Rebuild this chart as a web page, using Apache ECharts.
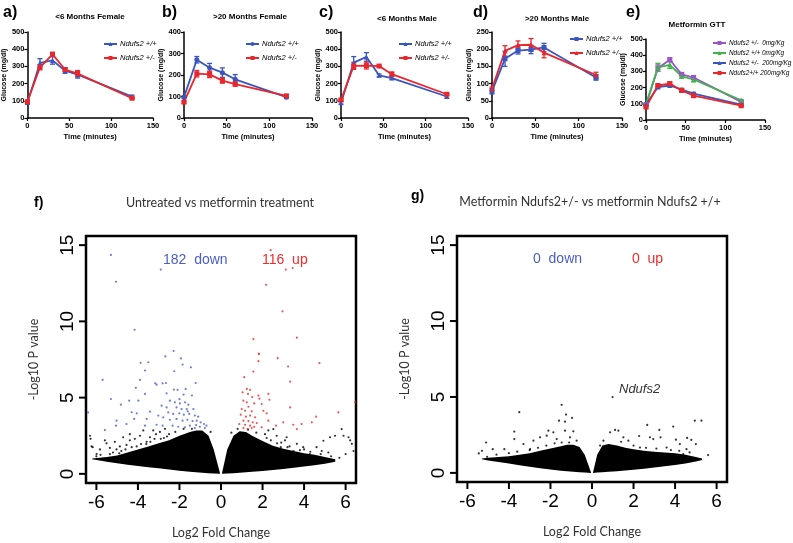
<!DOCTYPE html>
<html>
<head>
<meta charset="utf-8">
<script src="https://cdn.jsdelivr.net/npm/echarts@6/dist/echarts.min.js"></script>
<style>
  html, body { margin: 0; padding: 0; background: #fff; }
  #main { width: 793px; height: 543px; }
</style>
</head>
<body>
<div id="main"></div>
<script>
// ---- GTT panels (a-e): time points, mean glucose, SEM ----
const timeA = [0, 15, 30, 45, 60, 125];
const aWtMean = [90, 320, 335, 275, 252, 125];
const aWtSem = [8, 25, 22, 15, 20, 8];
const aHetMean = [95, 295, 370, 282, 258, 115];
const aHetSem = [5, 15, 12, 10, 18, 5];

const timeB = [0, 15, 30, 45, 60, 120];
const bWtMean = [97, 271, 234, 211, 180, 97];
const bWtSem = [5, 15, 20, 22, 22, 5];
const bHetMean = [74, 206, 203, 174, 158, 103];
const bHetSem = [5, 15, 15, 12, 10, 5];

const timeC = [0, 15, 30, 45, 60, 125];
const cWtMean = [88, 322, 355, 248, 232, 125];
const cWtSem = [8, 35, 25, 8, 8, 10];
const cHetMean = [105, 303, 305, 302, 255, 138];
const cHetSem = [5, 20, 20, 5, 12, 5];

const timeD = [0, 15, 30, 45, 60, 120];
const dWtMean = [78, 172, 196, 199, 205, 118];
const dWtSem = [8, 22, 10, 12, 12, 8];
const dHetMean = [85, 195, 212, 213, 190, 125];
const dHetSem = [5, 15, 12, 18, 15, 8];

const timeE = [0, 15, 30, 45, 60, 120];
const eHet0Mean = [95, 320, 372, 282, 262, 112];
const eHet0Sem = [5, 20, 12, 10, 12, 5];
const eWt0Mean = [95, 325, 340, 270, 250, 122];
const eWt0Sem = [5, 25, 22, 12, 15, 5];
const eHet200Mean = [95, 203, 213, 188, 163, 95];
const eHet200Sem = [5, 8, 8, 8, 8, 5];
const eWt200Mean = [80, 213, 225, 182, 150, 88];
const eWt200Sem = [8, 8, 8, 8, 10, 5];

// ---- volcano plots (f, g) ----
const volcanoTicksX = [-6, -4, -2, 0, 2, 4, 6];
const volcanoTicksY = [0, 5, 10, 15];

// dense cloud outline: x, upper edge, lower edge
const fLeftX = [-6.2, -5.5, -5, -4.5, -4, -3.5, -3, -2.5, -2, -1.5, -1.2, -0.9, -0.6, -0.35, -0.05];
const fLeftUp = [1.0, 1.1, 1.2, 1.4, 1.6, 1.8, 2.0, 2.2, 2.5, 2.75, 2.85, 2.85, 2.5, 1.6, 0.05];
const fLeftLo = [0.95, 0.8, 0.7, 0.6, 0.52, 0.44, 0.36, 0.28, 0.2, 0.13, 0.1, 0.07, 0.04, 0.02, 0];
const fRightX = [0.05, 0.3, 0.6, 0.9, 1.2, 1.5, 2.0, 2.5, 3.0, 3.5, 4.0, 4.5, 5.0, 5.5];
const fRightUp = [0.05, 1.6, 2.5, 2.8, 2.75, 2.5, 2.15, 1.85, 1.65, 1.5, 1.35, 1.25, 1.1, 0.95];
const fRightLo = [0, 0.02, 0.04, 0.07, 0.1, 0.13, 0.18, 0.25, 0.32, 0.4, 0.48, 0.56, 0.66, 0.8];

const gLeftX = [-5.3, -5, -4.5, -4, -3.5, -3, -2.5, -2, -1.5, -1.2, -0.9, -0.6, -0.35, -0.05];
const gLeftUp = [0.95, 1.0, 1.05, 1.1, 1.2, 1.3, 1.45, 1.6, 1.75, 1.85, 1.85, 1.7, 1.2, 0.05];
const gLeftLo = [0.9, 0.82, 0.72, 0.62, 0.5, 0.4, 0.3, 0.22, 0.14, 0.1, 0.07, 0.04, 0.02, 0];
const gRightX = [0.05, 0.25, 0.5, 0.8, 1.2, 1.6, 2.0, 2.5, 3.0, 3.5, 4.0, 4.5, 5.0, 5.3];
const gRightUp = [0.05, 1.2, 1.8, 1.9, 1.8, 1.65, 1.55, 1.45, 1.4, 1.35, 1.3, 1.2, 1.05, 0.95];
const gRightLo = [0, 0.02, 0.04, 0.07, 0.11, 0.15, 0.2, 0.27, 0.35, 0.43, 0.52, 0.62, 0.75, 0.85];

// significant genes in f
const fDown = [
  [-5.3, 14.36], [-5.06, 12.6], [-2.9, 13.4], [-4.16, 9.45], [-2.68, 7.7], [-2.28, 8.05], [-1.93, 7.57],
  [-3.87, 7.28], [-3.5, 7.32], [-1.85, 7.17], [-1.45, 6.99], [-3.66, 6.78], [-2.25, 6.73], [-5.7, 6.16],
  [-3.9, 6.16], [-1.22, 5.96], [-3.17, 5.94], [-3.1, 5.85], [-2.81, 5.94], [-2.65, 5.96], [-4.1, 5.64],
  [-2.27, 5.53], [-2.09, 5.51], [-1.7, 5.57], [-3.66, 5.24], [-2.62, 5.28], [-1.8, 5.2], [-1.4, 5.14],
  [-5.3, 4.91], [-4.42, 4.8], [-3.98, 4.8], [-4.82, 4.54], [-2.46, 4.8], [-2.22, 4.69], [-1.98, 4.62],
  [-1.73, 4.69], [-1.57, 4.54], [-2.86, 4.47], [-2.62, 4.36], [-2.14, 4.36], [-1.9, 4.25], [-1.65, 4.25],
  [-1.33, 4.25], [-4.3, 4.04], [-4.06, 3.97], [-3.42, 4.08], [-2.54, 4.03], [-2.3, 3.93], [-2.01, 3.97],
  [-1.79, 3.88], [-1.53, 3.93], [-1.26, 3.82], [-1.1, 3.75], [-3.02, 3.82], [-2.78, 3.71], [-3.58, 3.6],
  [-4.18, 3.6], [-2.46, 3.55], [-2.14, 3.6], [-1.85, 3.49], [-1.62, 3.55], [-1.37, 3.46], [-1.17, 3.49],
  [-0.98, 3.38], [-0.82, 3.27], [-5.03, 3.49], [-4.55, 3.27], [-5.59, 2.87], [-5.06, 3.16], [-3.66, 3.16],
  [-3.1, 3.22], [-2.81, 3.16], [-2.33, 3.16], [-2.06, 3.09], [-1.74, 3.05], [-1.5, 3.16], [-1.26, 3.0],
  [-1.02, 3.09], [-0.78, 3.0], [-0.7, 3.16], [-6.4, 4.03], [-2.0, 4.9], [-1.6, 4.1], [-1.2, 3.2]
];
const fUp = [
  [2.39, 14.67], [3.12, 13.4], [3.45, 13.5], [2.17, 12.4], [2.96, 10.66], [1.56, 8.84], [3.65, 8.93],
  [1.83, 7.87], [2.73, 7.59], [1.82, 7.87], [1.8, 7.39], [4.74, 7.26], [3.23, 7.04], [1.56, 6.71],
  [1.12, 6.34], [3.33, 6.05], [1.24, 5.57], [1.4, 5.51], [1.04, 5.35], [1.3, 5.24], [1.8, 5.14],
  [2.28, 5.24], [1.5, 5.04], [1.85, 4.93], [2.33, 4.86], [1.08, 4.8], [1.24, 4.69], [1.6, 4.62],
  [1.96, 4.58], [1.32, 4.4], [3.33, 4.36], [1.0, 4.25], [1.16, 4.14], [1.48, 4.1], [2.04, 4.14],
  [2.2, 3.97], [5.65, 4.03], [6.46, 4.69], [0.95, 3.88], [1.2, 3.75], [1.4, 3.82], [1.64, 3.71],
  [2.28, 3.49], [4.58, 3.75], [1.08, 3.49], [1.32, 3.46], [1.53, 3.38], [1.72, 3.33], [0.88, 3.27],
  [1.16, 3.22], [1.4, 3.16], [1.6, 3.09], [1.08, 3.0], [1.28, 2.94], [1.48, 3.0], [2.65, 3.16],
  [3.48, 3.22], [3.88, 3.27], [4.37, 3.38], [3.65, 2.94], [1.96, 3.05], [3.0, 3.38]
];
const fOther = [
  [-6.31, 2.5], [-6.28, 2.3], [-6.23, 1.8], [-6.18, 1.75], [-5.59, 2.2], [-5.51, 2.0], [-5.35, 1.7],
  [-5.11, 2.1], [-4.87, 1.8], [-4.71, 2.4], [-4.39, 2.6], [-4.39, 2.2], [-4.15, 2.3], [-3.9, 2.5],
  [-3.74, 2.85], [-3.42, 2.4], [-3.26, 2.85], [-3.13, 2.6], [-2.94, 2.75], [-2.7, 2.95], [-3.58, 2.1],
  [-5.03, 1.6], [-5.83, 1.6], [-5.99, 1.3], [-5.35, 1.3], [-4.06, 1.8], [-4.55, 1.9], [-4.8, 1.5],
  [-3.2, 2.3], [-2.5, 2.6], [-5.8, 1.25], [-5.2, 1.4], [-4.6, 1.6], [-4.3, 1.75], [-3.85, 1.95],
  [-3.4, 2.1], [-2.9, 2.3], [-2.6, 2.45], [-2.2, 2.75], [-1.8, 2.95], [-1.4, 2.95], [-0.5, 2.75],
  [-6.0, 1.15], [-4.9, 1.35], [-3.6, 1.95], [-2.75, 2.35],
  [4.93, 2.17], [5.25, 2.4], [5.49, 2.5], [5.81, 2.94], [5.9, 2.5], [6.14, 2.4], [6.22, 2.2],
  [6.3, 1.97], [6.0, 1.3], [6.38, 1.5], [4.6, 1.75], [4.28, 1.3], [3.96, 1.75], [3.65, 1.97],
  [3.16, 2.4], [3.08, 2.2], [2.68, 2.5], [2.52, 2.94], [2.28, 2.85], [2.12, 2.6], [5.17, 1.4],
  [4.85, 1.5], [3.49, 1.5], [2.88, 1.75], [2.4, 2.2], [3.3, 1.8], [0.5, 2.7], [0.8, 2.95],
  [1.7, 2.7], [2.2, 2.35], [2.7, 2.0], [3.2, 1.75], [3.8, 1.55], [4.3, 1.45], [4.8, 1.3],
  [5.3, 1.15], [5.7, 1.05], [1.3, 2.9], [2.9, 2.05], [4.0, 1.6]
];
// all genes in g
const gGene = [[0.99, 4.99]];
const gOther = [
  [-1.46, 4.48], [-3.5, 4.0], [-1.25, 3.84], [-1.59, 3.44], [-1.3, 3.37], [-0.96, 3.62], [-3.74, 2.72],
  [-3.74, 2.23], [-5.1, 2.0], [-5.45, 1.28], [-5.3, 1.45], [-5.05, 1.06], [-4.78, 1.56], [-4.22, 1.56],
  [-2.82, 2.12], [-2.5, 2.34], [-2.18, 2.45], [-1.86, 2.67], [-2.1, 2.78], [-1.3, 2.78], [-0.9, 2.74],
  [-1.7, 2.23], [-2.98, 1.56], [-3.3, 1.9], [-0.74, 2.12], [-1.06, 2.34], [-1.46, 2.0],
  [-4.6, 1.2], [-4.0, 1.3], [-3.6, 1.4], [-3.0, 1.5], [-2.6, 1.65], [-2.2, 1.8], [-1.8, 1.95], [-1.1, 2.0],
  [0.87, 2.67], [1.11, 2.83], [1.27, 2.78], [1.51, 2.34], [1.75, 2.12], [2.27, 2.43], [2.66, 3.16],
  [2.79, 2.34], [2.95, 2.23], [3.24, 2.83], [3.3, 2.34], [3.91, 3.05], [4.04, 2.19], [4.23, 1.9],
  [4.58, 2.3], [4.78, 2.17], [4.95, 3.44], [5.27, 3.44], [5.0, 1.9], [5.59, 1.17], [4.39, 1.23],
  [4.55, 1.56], [3.59, 1.67], [2.31, 1.67], [0.55, 2.12], [0.39, 1.8],
  [1.4, 2.05], [2.0, 1.8], [2.6, 1.65], [3.1, 1.6], [3.8, 1.5], [4.2, 1.45], [4.7, 1.35]
];

const BLUE = '#3a55c0', RED = '#e8262b', PURPLE = '#9b55c8', GREEN = '#3fb54a';
const VBLUE = '#4a5ec6', VRED = '#ee2b2b';
const boldFont = 'Liberation Sans, Arial, sans-serif';
const V_XMIN = -6.5, V_XMAX = 6.5, V_YMIN = -0.6, V_YMAX = 15.6;

const chart = echarts.init(document.getElementById('main'));

// small GTT panels
const panels = [
  {key: 'a', left: 27, top: 32, width: 126, height: 86, yMax: 500, yStep: 100, legendLeft: 103, legendTop: 40,
    groups: [
      {name: 'Ndufs2 +/+', t: timeA, m: aWtMean, s: aWtSem, color: BLUE, symbol: 'triangle'},
      {name: 'Ndufs2 +/-', t: timeA, m: aHetMean, s: aHetSem, color: RED, symbol: 'rect'}]},
  {key: 'b', left: 184, top: 32, width: 128, height: 86, yMax: 400, yStep: 100, legendLeft: 245, legendTop: 40,
    groups: [
      {name: 'Ndufs2 +/+', t: timeB, m: bWtMean, s: bWtSem, color: BLUE, symbol: 'circle'},
      {name: 'Ndufs2 +/-', t: timeB, m: bHetMean, s: bHetSem, color: RED, symbol: 'rect'}]},
  {key: 'c', left: 341, top: 32, width: 127, height: 86, yMax: 500, yStep: 100, legendLeft: 398, legendTop: 40,
    groups: [
      {name: 'Ndufs2 +/+', t: timeC, m: cWtMean, s: cWtSem, color: BLUE, symbol: 'triangle'},
      {name: 'Ndufs2 +/-', t: timeC, m: cHetMean, s: cHetSem, color: RED, symbol: 'rect'}]},
  {key: 'd', left: 492, top: 32, width: 130, height: 86, yMax: 250, yStep: 50, legendLeft: 569, legendTop: 35,
    groups: [
      {name: 'Ndufs2 +/+', t: timeD, m: dWtMean, s: dWtSem, color: BLUE, symbol: 'rect'},
      {name: 'Ndufs2 +/-', t: timeD, m: dHetMean, s: dHetSem, color: RED, symbol: 'triangle'}]},
  {key: 'e', left: 646, top: 39, width: 119, height: 81, yMax: 500, yStep: 100, legendLeft: 712, legendTop: 40, gap: 4, fs: 6.4,
    groups: [
      {name: 'Ndufs2 +/-  0mg/Kg', t: timeE, m: eHet0Mean, s: eHet0Sem, color: PURPLE, symbol: 'rect'},
      {name: 'Ndufs2 +/+ 0mg/Kg', t: timeE, m: eWt0Mean, s: eWt0Sem, color: GREEN, symbol: 'triangle'},
      {name: 'Ndufs2 +/-  200mg/Kg', t: timeE, m: eHet200Mean, s: eHet200Sem, color: BLUE, symbol: 'triangle'},
      {name: 'Ndufs2+/+ 200mg/Kg', t: timeE, m: eWt200Mean, s: eWt200Sem, color: RED, symbol: 'rect'}]}
];

function errorBar(params, api) {
  const x = api.value(0), m = api.value(1), s = api.value(2);
  const hi = api.coord([x, m + s]);
  const lo = api.coord([x, m - s]);
  const c = api.visual('color');
  const st = {stroke: c, lineWidth: 1.3};
  return {type: 'group', children: [
    {type: 'line', shape: {x1: hi[0], y1: hi[1], x2: lo[0], y2: lo[1]}, style: st},
    {type: 'line', shape: {x1: hi[0] - 2.5, y1: hi[1], x2: hi[0] + 2.5, y2: hi[1]}, style: st},
    {type: 'line', shape: {x1: lo[0] - 2.5, y1: lo[1], x2: lo[0] + 2.5, y2: lo[1]}, style: st}
  ]};
}

function blob(axis, xs, up, lo) {
  return {
    type: 'custom', xAxisIndex: axis, yAxisIndex: axis, silent: true,
    data: [[xs[0], up[0]]],
    renderItem: function (params, api) {
      const top = xs.map((x, i) => api.coord([x, up[i]]));
      const bottom = xs.map((x, i) => api.coord([x, lo[i]])).reverse();
      return {type: 'polygon', shape: {points: top.concat(bottom)}, style: {fill: '#000'}};
    }
  };
}

// outward tick marks on the frame of a volcano plot
function frameTicks(axis, values, dir) {
  return {
    type: 'custom', xAxisIndex: axis, yAxisIndex: axis, silent: true, clip: false, z: 10,
    data: values.map(v => dir === 'x' ? [v, V_YMIN] : [V_XMIN, v]),
    renderItem: function (params, api) {
      const p = api.coord([api.value(0), api.value(1)]);
      const shape = dir === 'x'
        ? {x1: p[0], y1: p[1], x2: p[0], y2: p[1] + 7}
        : {x1: p[0], y1: p[1], x2: p[0] - 7, y2: p[1]};
      return {type: 'line', shape: shape, style: {stroke: '#000', lineWidth: 2}};
    }
  };
}

function dots(axis, data, color, size) {
  return {type: 'scatter', xAxisIndex: axis, yAxisIndex: axis, data: data, symbol: 'circle',
    symbolSize: size || 2.2, itemStyle: {color: color}, silent: true, z: 5};
}

const grid = [], xAxis = [], yAxis = [], series = [], legend = [];

panels.forEach((p, i) => {
  grid.push({left: p.left, top: p.top, width: p.width, height: p.height});
  const tickFont = {fontSize: 7.5, fontWeight: 'bold', color: '#000', fontFamily: boldFont};
  xAxis.push({
    type: 'value', gridIndex: i, min: 0, max: 150, interval: 50,
    axisLine: {onZero: false, lineStyle: {color: '#000', width: 1.5}},
    axisTick: {length: 3, lineStyle: {color: '#000', width: 1.2}},
    axisLabel: Object.assign({margin: 4}, tickFont),
    splitLine: {show: false},
    name: 'Time (minutes)', nameLocation: 'middle', nameGap: 15,
    nameTextStyle: {fontSize: 7.5, fontWeight: 'bold', color: '#000', fontFamily: boldFont}
  });
  yAxis.push({
    type: 'value', gridIndex: i, min: 0, max: p.yMax, interval: p.yStep,
    axisLine: {show: true, onZero: false, lineStyle: {color: '#000', width: 1.5}},
    axisTick: {show: true, length: 3, lineStyle: {color: '#000', width: 1.2}},
    axisLabel: Object.assign({margin: 3}, tickFont),
    splitLine: {show: false},
    name: 'Glucose (mg/dl)', nameLocation: 'middle', nameGap: 18,
    nameTextStyle: {fontSize: 7, fontWeight: 'bold', color: '#000', fontFamily: boldFont}
  });
  const names = [];
  p.groups.forEach(g => {
    const sname = p.key + '|' + g.name;
    names.push(sname);
    series.push({
      type: 'line', name: sname, xAxisIndex: i, yAxisIndex: i,
      data: g.t.map((t, k) => [t, g.m[k]]),
      symbol: g.symbol, symbolSize: 5, showAllSymbol: true,
      lineStyle: {color: g.color, width: 1.8}, itemStyle: {color: g.color},
      z: 3
    });
    series.push({
      type: 'custom', name: sname + '-err', xAxisIndex: i, yAxisIndex: i,
      data: g.t.map((t, k) => [t, g.m[k], g.s[k]]),
      encode: {x: 0, y: 1}, renderItem: errorBar, itemStyle: {color: g.color}, z: 2, silent: true
    });
  });
  legend.push({
    data: names, left: p.legendLeft, top: p.legendTop, orient: 'vertical',
    itemWidth: 13, itemHeight: 5, itemGap: p.gap || 6, padding: 0, selectedMode: false,
    formatter: n => n.split('|')[1],
    textStyle: {fontSize: p.fs || 7.5, fontStyle: 'italic', color: '#000', fontFamily: boldFont, padding: [0, 0, 0, -2]}
  });
});

// volcano panels
const volcanoGrids = [
  {left: 86, top: 236, width: 270, height: 247},
  {left: 457, top: 236, width: 270, height: 246}
];
volcanoGrids.forEach((g, j) => {
  const idx = panels.length + j;
  grid.push(Object.assign({show: true, borderColor: '#000', borderWidth: 2.5, backgroundColor: 'transparent'}, g));
  xAxis.push({
    type: 'value', gridIndex: idx, min: V_XMIN, max: V_XMAX, position: 'bottom',
    axisLine: {show: false, onZero: false}, splitLine: {show: false},
    axisTick: {show: false},
    axisLabel: {customValues: volcanoTicksX, fontSize: 19, color: '#000', margin: 10, fontFamily: 'Liberation Sans, Arial'},
    name: 'Log2 Fold Change', nameLocation: 'middle', nameGap: 43,
    nameTextStyle: {fontSize: 12.5, color: '#333', fontFamily: 'Lato, Open Sans, sans-serif'}
  });
  yAxis.push({
    type: 'value', gridIndex: idx, min: V_YMIN, max: V_YMAX, position: 'left',
    axisLine: {show: false, onZero: false}, splitLine: {show: false},
    axisTick: {show: false},
    axisLabel: {customValues: volcanoTicksY, fontSize: 19, color: '#000', margin: 9, rotate: 90, fontFamily: 'Liberation Sans, Arial'},
    name: '-Log10 P value', nameLocation: 'middle', nameGap: 46,
    nameTextStyle: {fontSize: 12.5, color: '#333', fontFamily: 'Lato, Open Sans, sans-serif'}
  });
});
const fi = panels.length, gi = panels.length + 1;
series.push(blob(fi, fLeftX, fLeftUp, fLeftLo), blob(fi, fRightX, fRightUp, fRightLo));
series.push(dots(fi, fOther, '#000'), dots(fi, fDown, VBLUE), dots(fi, fUp, VRED));
series.push(blob(gi, gLeftX, gLeftUp, gLeftLo), blob(gi, gRightX, gRightUp, gRightLo));
series.push(dots(gi, gOther, '#000'), dots(gi, gGene, '#000'));
[fi, gi].forEach(a => {
  series.push(frameTicks(a, volcanoTicksX, 'x'), frameTicks(a, volcanoTicksY, 'y'));
});

function txt(x, y, text, opts) {
  return {type: 'text', x: x, y: y, silent: true, style: Object.assign({
    text: text, fill: '#000', fontSize: 8, fontWeight: 'bold', fontFamily: boldFont,
    align: 'center', verticalAlign: 'middle'}, opts || {})};
}

const graphic = [
  txt(3, 13, 'a)', {fontSize: 16, align: 'left'}),
  txt(162, 13, 'b)', {fontSize: 16, align: 'left'}),
  txt(319, 13, 'c)', {fontSize: 16, align: 'left'}),
  txt(473, 13, 'd)', {fontSize: 16, align: 'left'}),
  txt(626, 13, 'e)', {fontSize: 16, align: 'left'}),
  txt(90, 17, '<6 Months Female'),
  txt(250, 17, '>20 Months Female'),
  txt(407, 19, '<6 Months Male'),
  txt(557, 19, '>20 Months Male'),
  txt(697, 25, 'Metformin GTT'),
  txt(34, 203, 'f)', {fontSize: 14, align: 'left'}),
  txt(411, 196, 'g)', {fontSize: 14, align: 'left'}),
  txt(220, 203, 'Untreated vs metformin treatment', {fontSize: 12.5, fontWeight: 'normal', fill: '#333', fontFamily: 'Lato, Open Sans, sans-serif'}),
  txt(590, 202, 'Metformin Ndufs2+/- vs metformin Ndufs2 +/+', {fontSize: 12.5, fontWeight: 'normal', fill: '#333', fontFamily: 'Lato, Open Sans, sans-serif'}),
  txt(163, 260, '182  down', {fontSize: 14, fontWeight: 'normal', fill: VBLUE, align: 'left', fontFamily: 'Liberation Sans, Arial'}),
  txt(262, 260, '116  up', {fontSize: 14, fontWeight: 'normal', fill: VRED, align: 'left', fontFamily: 'Liberation Sans, Arial'}),
  txt(533, 259, '0  down', {fontSize: 14, fontWeight: 'normal', fill: VBLUE, align: 'left', fontFamily: 'Liberation Sans, Arial'}),
  txt(632, 259, '0  up', {fontSize: 14, fontWeight: 'normal', fill: VRED, align: 'left', fontFamily: 'Liberation Sans, Arial'}),
  txt(619, 389, 'Ndufs2', {fontSize: 13, fontWeight: 'normal', fontStyle: 'italic', fill: '#333', align: 'left', fontFamily: 'Liberation Sans, Arial'})
];

chart.setOption({
  backgroundColor: '#fff',
  animation: false,
  grid: grid,
  xAxis: xAxis,
  yAxis: yAxis,
  legend: legend,
  graphic: graphic,
  series: series
});
</script>
</body>
</html>
